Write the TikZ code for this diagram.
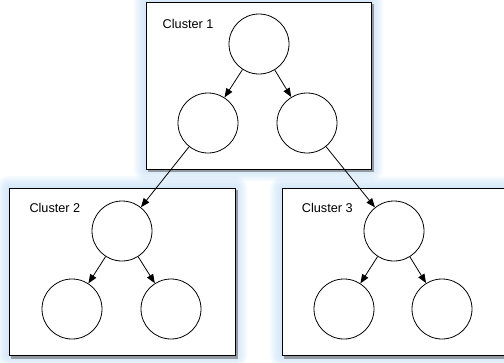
\documentclass[tikz,border=0pt]{standalone}
\usepackage{fontspec}
\setmainfont{Liberation Sans}
\usetikzlibrary{arrows.meta}
\definecolor{glow}{RGB}{190,220,250}
\tikzset{
 clusterbox/.style={draw=black, line width=0.9pt, fill=white, rectangle, inner sep=0pt},
 vert/.style={draw=black, circle, line width=0.8pt, minimum size=60pt, inner sep=0pt, fill=white},
 lbl/.style={font=\fontsize{12.7}{14}\selectfont, inner sep=0pt, anchor=west},
 arr/.style={line width=0.8pt, -{Triangle[length=9pt,width=7pt]}},
 glowfill/.style={fill=glow, opacity=0.14},
 dropshadow/.style={fill=black!60, opacity=0.6},
}
\newcommand\myglowbox[4]{%
  \foreach \k in {12,10,...,2}{\fill[glowfill, rounded corners=\k pt] (#1-\k,#2-\k) rectangle (#3+\k,#4+\k);}%
  \fill[dropshadow] (#1+2,#2+2) rectangle (#3+2.5,#4+3);%
}
\begin{document}
\begin{tikzpicture}[x=1pt,y=-1pt]
\useasboundingbox (0,0) rectangle (504,362);
\fill[white] (0,0) rectangle (504,362);
% glows and shadows
\myglowbox{146}{2}{371}{169}
\myglowbox{9}{188}{235}{355.5}
\myglowbox{282}{188.5}{512}{355.5}
% cluster boxes
\node[clusterbox, minimum width=225pt, minimum height=167pt] (c1) at (258.5,85.5) {};
\node[clusterbox, minimum width=226pt, minimum height=167.5pt] (c2) at (122,271.75) {};
\node[clusterbox, minimum width=230pt, minimum height=167pt] (c3) at (397,272) {};
% labels
\node[lbl] (l1) at (162.5,24) {Cluster 1};
\node[lbl] (l2) at (29.3,207.7) {Cluster 2};
\node[lbl] (l3) at (301.7,207.7) {Cluster 3};
% vertices
\node[vert] (a0) at (259,44) {};
\node[vert] (a1) at (208,123) {};
\node[vert] (a2) at (307,123) {};
\node[vert] (b0) at (122,231) {};
\node[vert] (b1) at (72,309) {};
\node[vert] (b2) at (171,309) {};
\node[vert] (d0) at (394,231) {};
\node[vert] (d1) at (344,309) {};
\node[vert] (d2) at (442,309) {};
% edges
\draw[arr] (a0) -- (a1);
\draw[arr] (a0) -- (a2);
\draw[arr] (b0) -- (b1);
\draw[arr] (b0) -- (b2);
\draw[arr] (d0) -- (d1);
\draw[arr] (d0) -- (d2);
\draw[arr] (a1) -- (b0);
\draw[arr] (a2) -- (d0);
\end{tikzpicture}
\end{document}
